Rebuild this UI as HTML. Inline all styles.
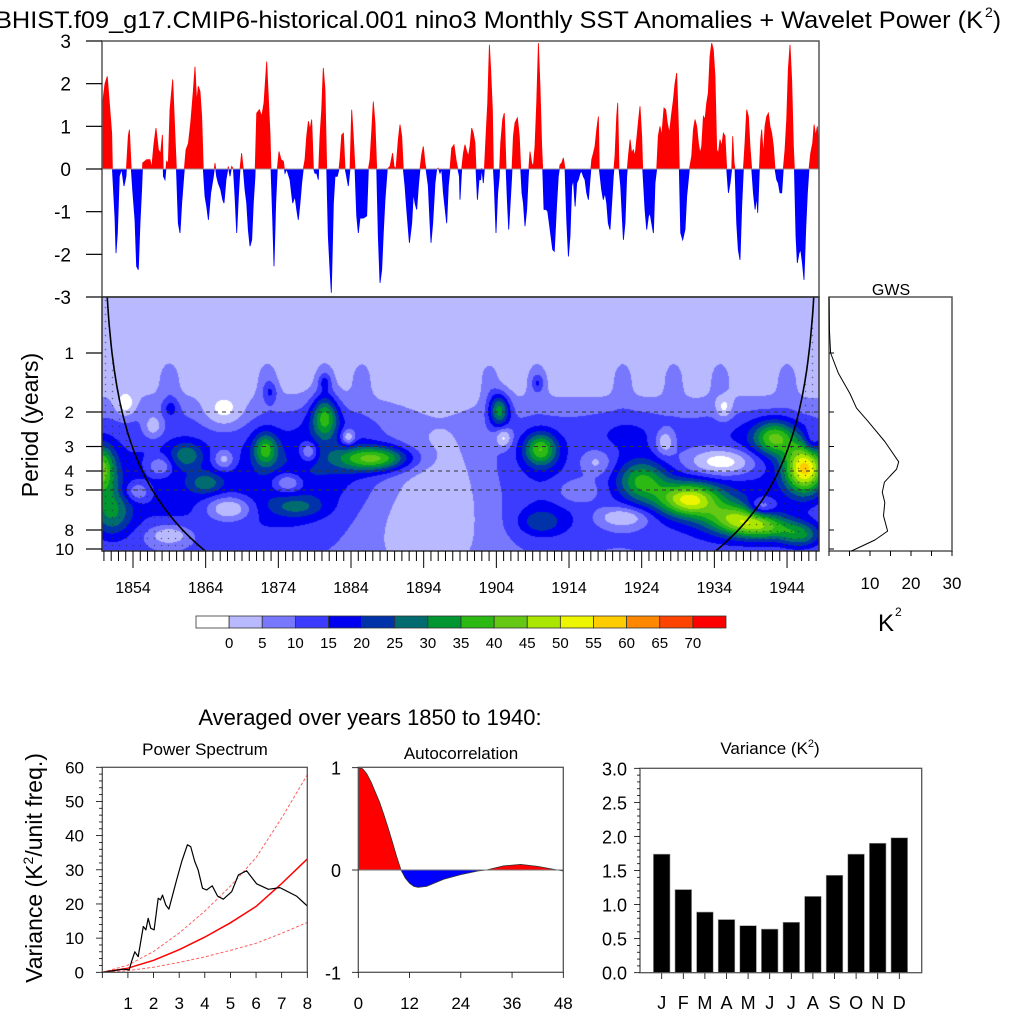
<!DOCTYPE html>
<html><head><meta charset="utf-8">
<style>
html,body{margin:0;padding:0;background:#fff;}
#wrap{position:relative;width:1024px;height:1024px;overflow:hidden;font-family:"Liberation Sans",sans-serif;}
#wavelet-canvas{position:absolute;left:102px;top:297px;}
svg{position:absolute;left:0;top:0;}
text{font-family:"Liberation Sans",sans-serif;fill:#000;}
</style></head>
<body>
<div id="wrap">
<canvas id="wavelet-canvas" width="717" height="254"></canvas>
<svg id="fig" width="1024" height="1024" viewBox="0 0 1024 1024">
<defs>
<clipPath id="clip-pos"><rect x="102" y="41" width="717" height="128"/></clipPath>
<clipPath id="clip-neg"><rect x="102" y="169" width="717" height="128"/></clipPath>
<clipPath id="clip-wav"><rect x="102" y="297" width="717" height="254"/></clipPath>
<clipPath id="clip-acpos"><rect x="358" y="767" width="206" height="103"/></clipPath>
<clipPath id="clip-acneg"><rect x="358" y="870" width="206" height="103"/></clipPath>
<clipPath id="clip-ps"><rect x="102" y="767" width="206" height="206"/></clipPath>
</defs>
<text x="-5" y="28" font-size="24" textLength="988" lengthAdjust="spacingAndGlyphs">BHIST.f09_g17.CMIP6-historical.001 nino3 Monthly SST Anomalies + Wavelet Power (K</text>
<text x="985" y="17" font-size="14">2</text>
<text x="993" y="28" font-size="24">)</text>

<g id="ts-layer"></g>
<g id="wav-layer"></g>
<text transform="translate(38,425) rotate(-90)" text-anchor="middle" font-size="23">Period (years)</text>

<g id="gws-layer"></g>
<text x="891" y="295" text-anchor="middle" font-size="16">GWS</text>
<text x="878" y="631" font-size="24">K</text>
<text x="895" y="616" font-size="12">2</text>

<g id="cb-layer"></g>

<text x="370" y="725" text-anchor="middle" font-size="22">Averaged over years 1850 to 1940:</text>
<text x="205" y="755" text-anchor="middle" font-size="17">Power Spectrum</text>
<text x="461" y="759" text-anchor="middle" font-size="17">Autocorrelation</text>
<text x="770" y="754" text-anchor="middle" font-size="17">Variance (K<tspan font-size="11" dy="-7">2</tspan><tspan dy="7">)</tspan></text>
<text transform="translate(42,868) rotate(-90)" text-anchor="middle" font-size="23">Variance (K<tspan font-size="14" dy="-9">2</tspan><tspan dy="9">/unit freq.)</tspan></text>
<g id="ps-layer"></g>
<g id="ac-layer"></g>
<g id="var-layer"></g>
</svg>
</div>
<script>
// ---------- DATA ----------
const tsYears = [1849.46,1850.15,1850.47,1850.84,1851.07,1851.16,1851.52,1851.66,1851.85,1852.12,1852.44,1852.76,1853.04,1853.36,1853.5,1853.73,1853.96,1854.28,1854.5,1854.73,1854.96,1855.19,1855.33,1855.88,1856.34,1856.57,1856.89,1857.17,1857.49,1857.81,1858.04,1858.18,1858.4,1858.63,1858.86,1859.09,1859.46,1859.78,1860.01,1860.24,1860.47,1860.7,1861.02,1861.29,1861.62,1861.94,1862.3,1862.53,1862.76,1862.99,1863.22,1863.45,1863.68,1863.91,1864.14,1864.37,1864.69,1865.06,1865.29,1865.51,1865.74,1866.07,1866.34,1866.52,1866.8,1867.12,1867.35,1867.58,1867.81,1868.04,1868.27,1868.5,1868.73,1868.95,1869.18,1869.41,1869.64,1869.87,1870.1,1870.33,1870.56,1870.79,1871.02,1871.39,1871.71,1872.03,1872.4,1872.62,1872.85,1872.99,1873.22,1873.4,1873.63,1873.86,1874.09,1874.37,1874.69,1874.92,1875.15,1875.61,1875.97,1876.29,1876.52,1876.75,1876.98,1877.21,1877.44,1877.67,1877.9,1878.13,1878.36,1878.59,1878.82,1879.05,1879.28,1879.5,1879.73,1879.96,1880.19,1880.42,1880.65,1880.88,1881.11,1881.29,1881.57,1881.8,1882.12,1882.35,1882.49,1882.72,1882.95,1883.17,1883.4,1883.63,1883.86,1884.09,1884.32,1884.55,1884.78,1885.01,1885.24,1885.7,1886.16,1886.39,1886.61,1886.84,1887.07,1887.3,1887.53,1887.76,1887.99,1888.22,1888.45,1888.68,1889.0,1889.37,1889.73,1889.92,1890.19,1890.51,1890.74,1890.97,1891.2,1891.43,1891.66,1892.03,1892.35,1892.58,1892.81,1893.04,1893.27,1893.5,1893.73,1893.95,1894.18,1894.32,1894.64,1894.87,1895.01,1895.24,1895.56,1895.79,1896.02,1896.25,1896.48,1896.71,1897.17,1897.39,1897.62,1897.85,1898.17,1898.45,1898.63,1898.91,
1899.0,1899.23,1899.46,1899.69,1899.92,1900.15,1900.38,1900.61,1900.83,1901.06,1901.2,1901.39,1901.61,1901.84,1901.98,1902.21,1902.35,1902.58,1902.81,1903.04,1903.22,1903.45,1903.59,1903.72,1903.95,1904.18,1904.41,1904.6,1904.87,1905.1,1905.33,1905.51,1905.7,1905.88,1906.11,1906.34,1906.57,1906.89,1907.16,1907.35,1907.53,1907.72,1907.94,1908.17,1908.4,1908.63,1908.86,1909.09,1909.32,1909.55,1909.78,1910.01,1910.24,1910.38,1910.56,1910.83,1911.06,1911.29,1911.52,1911.75,1911.98,1912.3,1912.53,1912.76,1912.99,1913.22,1913.45,1913.68,1913.91,1914.14,1914.37,1914.6,1914.83,1915.05,1915.28,1915.51,1915.74,1915.97,1916.2,1916.43,1916.66,1916.89,1917.12,1917.35,1917.58,1917.81,1918.04,1918.17,1918.49,1918.72,1918.95,1919.18,1919.41,1919.64,1919.87,1920.1,1920.33,1920.56,1920.7,1920.88,1921.11,1921.34,1921.48,1921.71,1921.94,1922.17,1922.4,1922.62,1922.85,1923.08,1923.31,1923.54,1923.77,1924.0,1924.14,1924.46,1924.69,1924.92,1925.15,1925.38,1925.61,1925.83,1926.06,1926.29,1926.52,1926.75,1927.07,1927.3,1927.53,1927.81,1928.13,1928.36,1928.59,1928.82,1929.05,1929.18,1929.37,1929.64,1929.96,1930.19,1930.56,1930.88,1931.11,1931.34,1931.57,1931.8,1932.03,1932.26,1932.49,1932.71,1932.94,1933.17,1933.4,1933.63,1933.86,1934.09,1934.32,1934.55,1934.78,1935.01,1935.24,1935.47,1935.7,1935.93,1936.16,1936.38,1936.52,1936.71,1936.84,1937.07,1937.3,1937.53,1937.76,1937.99,1938.22,1938.45,1938.68,1938.91,1939.14,1939.37,1939.6,1939.82,1939.96,1940.15,1940.37,1940.51,1940.74,1940.97,1941.2,1941.43,1941.66,1941.89,1942.12,1942.35,1942.58,1942.8,1943.03,1943.26,1943.49,1943.72,1943.95,1944.18,1944.41,1944.64,1944.87,1945.01,1945.24,1945.42,1945.65,1945.88,1946.11,1946.34,1946.57,1946.8,1947.03,1947.26,1947.53,1947.72,1947.94,1948.17,1948.4];
const tsValues = [1.08,2.0,2.17,1.35,0.84,0,-1.15,-1.97,-1.5,-0.17,0,-0.4,-0.17,0.77,0.92,0.1,-0.5,-1.2,-2.28,-2.36,-1.27,-0.5,0.14,0.22,0.22,0.02,0.6,0.96,0.45,0.37,0.8,-0.17,-0.25,0.18,0.14,1.39,2.1,0.77,-0.17,-1.27,-1.5,-0.8,-0.1,0.45,0.6,1.08,1.82,2.4,1.55,1.94,1.82,1.23,0,-0.64,-0.88,-1.19,-0.56,-0.17,0.14,-0.17,-0.33,-0.48,-0.72,-0.8,-0.25,0.06,-0.17,0.06,0,-0.64,-1.5,-0.64,0,0.37,0,-0.48,-0.8,-1.42,-1.81,-1.66,-0.8,-0.17,1.31,1.39,1.23,1.55,2.52,1.7,0.84,0,-1.19,-2.28,-0.8,0,0.41,0.22,0.18,-0.1,0,-0.25,-0.8,-0.64,-0.95,-1.19,-0.8,-0.33,0,0.22,0.77,1.12,0.92,1.16,0.02,-0.1,-0.1,-0.25,0.77,1.39,2.37,1.86,0,-1.58,-2.36,-2.9,-0.8,-0.17,-0.17,0,0.22,0.8,0.84,0.02,-0.17,-0.4,0,1.39,0.77,0,-1.1,-1.5,-1.15,-1.15,-1.1,0,0.22,0.84,1.58,1.08,0,-1.58,-2.67,-2.36,-1.5,-0.72,0,0.06,0.37,0.06,0,0.69,1.04,0.77,0,-0.4,-0.95,-1.73,-1.27,-0.56,-0.8,-0.95,-0.4,0,0.34,0.53,0.14,0,-0.4,-1.27,-1.73,-1.27,-0.33,0,0.02,-0.1,0,-0.56,-1.27,-0.4,0,0.49,0.57,0.22,0.06,-0.17,
-0.72,0,0.37,0.57,0.41,0.3,0.53,0.96,0.84,0.61,0,-0.72,-0.25,-0.25,0.02,-0.33,0,0.77,1.55,2.91,2.33,1.39,0,-0.4,-1.5,-0.56,-0.17,0.61,1.16,1.31,0.06,-0.72,-1.42,-0.88,-0.17,0.77,1.08,1.2,0.77,0,-0.56,-0.8,-1.34,-0.95,-0.17,0.41,0.14,0.06,0.53,1.55,2.95,1.94,0.53,0,-0.95,-0.95,-0.99,-1.27,-1.58,-1.89,-1.93,-0.8,-0.17,0.1,0.14,0.26,0,-1.19,-2.05,-1.58,-0.4,-0.25,-0.88,-0.33,-0.25,-0.1,-0.05,-0.17,-0.25,-0.56,-0.72,-0.25,0.22,0.37,0.53,0.92,1.23,0,-0.48,-0.72,-0.56,-0.8,-1.27,-1.42,-0.8,-0.17,0.3,1.23,1.55,0,-0.4,-1.19,-1.66,-1.27,-0.17,0.3,0.69,0.37,0.45,0.3,0.69,1.08,1.47,0.77,0,-0.95,-1.42,-1.11,-1.03,-1.27,-1.5,-0.33,0,0.77,1.0,0.77,1.43,1.39,1.08,0.84,1.31,1.62,2.0,2.25,1.0,0,-1.5,-1.66,-1.42,-0.64,0,0.3,0.92,1.16,1.0,0.61,0.37,0.53,1.23,1.16,1.55,1.78,2.64,2.95,2.8,2.17,0.45,0.37,0.69,0.53,0.84,0.77,0,-0.56,-0.33,0,0.77,0.14,0,-1.27,-1.89,-2.13,-0.88,0,0.61,1.39,1.23,0.53,0,-0.56,-0.95,-0.64,-1.03,-0.17,0.69,0.92,0.3,1.0,1.23,1.31,1.0,0.84,0.53,0,-0.25,-0.33,-0.56,-0.56,0,0.45,1.16,2.33,2.91,2.08,0.53,0,-1.58,-2.2,-1.97,-1.89,-2.2,-2.6,-1.42,-0.56,0,0.37,0.61,1.04,0.77,1.0,0.53];

const yearTicks = [1854,1864,1874,1884,1894,1904,1914,1924,1934,1944];
const periodTicks = [1,2,3,4,5,8,10];
const periodDashed = [2,3,4,5];

// wavelet power field: gaussian components (year, period, amplitude K^2, spread years, spread octaves)
const blobYear   = [1858,1875,1880,1910,1912,1922,1940,1935, 1880.4,1904.4,1872.2,1887.3,1910.1,1861.4,1864,1876.6,1924,1930.5,1937,1941,1946,1946.5,1942.3,1849.5,1851,1910, 1859,1872.5,1880.4,1885.5,1903,1909.6,1921.4,1928.4,1934.8,1944, 1872.9,1880.4,1909.7,1859.2, 1853,1856.8,1866.5,1866.5,1857.7,1854.6,1878.2,1883.6,1875.3,1867.2,1859,1905,1935.3,1927.2,1935.3,1940.4,1921.4,1915,1917.7,1947.4,1896,1893];
const blobPeriod = [4.5,5.5,3.2,3.5,7,2.6,3.0,6, 2.12,1.95,3.1,3.45,3.1,3.3,4.6,6.1,4.5,5.6,7,7.8,8.5,3.9,2.7,3.9,6.5,7.3, 1.4,1.4,1.4,1.4,1.4,1.4,1.4,1.4,1.4,1.4, 1.58,1.4,1.42,1.9, 1.84,2.38,2.0,3.5,3.8,5.1,3.2,2.7,4.6,6.2,8.5,2.7,1.9,2.85,3.6,6.1,6.9,5.1,3.6,2.85,4.5,8.5];
const blobAmp    = [9,8,8,6,6,7,8,9, 25,25,22,30,26,14,12,10,25,36,26,22,18,44,25,30,18,10, 5,5,5,5,5,5,5,5,5,5, 8,8,8,8, -10,-10,-10,-12,-12,-12,-14,-14,-14,-16,-12,-12,-10,-12,-20,-14,-12,-8,-8,-10,-5.5,-4];
const blobSy     = [8,7,6,5,5,4,6,8, 1.3,1.0,1.2,3.5,1.6,1.5,1.5,2.5,2.5,3,3,3,2,2,2,1.5,2,2, 1,1,1,1,1,1,1,1,1,1, 0.7,0.6,0.6,0.8, 1,1,2,1,1.2,1.3,0.9,0.7,1.5,2.2,2,0.8,0.8,0.9,3.5,1.3,2.5,2,1.5,0.8,5,6];
const blobSo     = [0.7,0.6,0.5,0.5,0.4,0.3,0.4,0.6, 0.25,0.2,0.2,0.15,0.2,0.15,0.12,0.12,0.25,0.2,0.18,0.15,0.15,0.3,0.2,0.3,0.3,0.15, 0.25,0.25,0.25,0.25,0.25,0.25,0.25,0.25,0.25,0.25, 0.12,0.1,0.1,0.12, 0.15,0.15,0.2,0.12,0.12,0.12,0.12,0.1,0.12,0.15,0.12,0.12,0.15,0.15,0.18,0.1,0.12,0.15,0.15,0.15,1.0,0.6];

const cbLevels = [0,5,10,15,20,25,30,35,40,45,50,55,60,65,70];
const cbColors = ["#ffffff","#b9b9ff","#7878ff","#3c3cff","#0000f0","#0033aa","#006c70","#009632","#2db914","#64c814","#aae600","#eef500","#ffcc00","#ff8800","#ff4400","#ff0000"];

const gwsPeriod = [0.52,0.76,1.0,1.27,1.61,1.91,2.23,2.83,3.59,3.91,4.56,5.14,5.79,6.77,8.1,9.0,10.24];
const gwsPower  = [0,0.1,0.4,2.3,5.1,6.7,9.5,13.6,17,16.5,13.5,13,13.6,13.3,14.3,11.2,5.5];
const gwsTicks = [10,20,30];

const psFreq  = [0,0.82,1.05,1.14,1.27,1.4,1.6,1.7,1.79,1.89,2.02,2.18,2.27,2.35,2.48,2.6,2.9,3.1,3.32,3.45,3.61,3.74,3.91,4.07,4.29,4.5,4.72,5.05,5.31,5.63,6.02,6.48,6.93,7.58,8];
const psPower = [0,0.9,0.7,3.1,6,4.6,13.4,12.4,15.8,12.9,12.4,21.7,21.2,22.6,19.7,18.5,27,32.4,37.3,36.8,32.4,30,24.6,24.1,25.3,22.3,21.4,23.6,28.5,29.7,25.9,24.3,24.8,22.3,19.4];
const redFreq = [0,1,2,3,4,5,6,7,8];
const redMean = [0,1.2,3.5,6.6,10.3,14.5,19.3,26,33.2];
const redUpper = [0,2.1,6.1,11.5,17.9,25.2,33.6,45.2,57.8];
const redLower = [0,0.5,1.5,2.9,4.5,6.4,8.5,11.4,14.6];
const psYTicks = [0,10,20,30,40,50,60];
const psXTicks = [1,2,3,4,5,6,7,8];

const acLag = [0,1,2,3,4,5,6,7,8,9,10,11,12,13,14,16,20,24,28,30,34,38,42,46,48];
const acVal = [1,0.99,0.94,0.86,0.76,0.66,0.54,0.41,0.27,0.13,0,-0.08,-0.13,-0.16,-0.17,-0.16,-0.09,-0.045,-0.01,0,0.04,0.055,0.035,0.005,-0.01];
const acXTicks = [0,12,24,36,48];
const acYTicks = [-1,0,1];

const months = ["J","F","M","A","M","J","J","A","S","O","N","D"];
const monthVar = [1.74,1.22,0.89,0.78,0.69,0.64,0.74,1.12,1.43,1.74,1.9,1.98];
const varTicks = [0,0.5,1.0,1.5,2.0,2.5,3.0];

// ---------- SCALES ----------
const xYear = y => 133 + (y - 1854) * 7.267;
const yTop = v => 169 - v * 42.667;
const yPer = p => 353 + 59 * Math.log2(p);
const xG = v => 829 + v * 4.1;
const xPS = f => 102.3 + f * 25.625;
const yPS = v => 972.3 - v * 3.417;
const xAC = l => 358.3 + l * 4.271;
const yAC = r => 870 - r * 102.3;
const xV = i => 661.7 + i * 21.6;
const yV = v => 972.7 - v * 68.13;

const NS = 'http://www.w3.org/2000/svg';
function mk(tag, attrs, parent) {
  const e = document.createElementNS(NS, tag);
  for (const k in attrs) e.setAttribute(k, attrs[k]);
  parent.appendChild(e);
  return e;
}
const fmt = n => n.toFixed(1);

// ---------- TOP: SST anomalies ----------
const ts = document.getElementById('ts-layer');
let pts = [[xYear(tsYears[0]), 169]];
for (let i = 0; i < tsYears.length; i++) pts.push([xYear(tsYears[i]), yTop(tsValues[i])]);
pts.push([xYear(tsYears[tsYears.length-1]), 169]);
const ptStr = pts.map(p => fmt(p[0]) + ',' + fmt(p[1])).join(' ');
let e;
e = mk('polygon', {points: ptStr, fill: '#ff0000', stroke: '#ff0000', 'stroke-width': 0.8, 'clip-path': 'url(#clip-pos)'}, ts);


e = mk('polygon', {points: ptStr, fill: '#0000ff', stroke: '#0000ff', 'stroke-width': 0.8, 'clip-path': 'url(#clip-neg)'}, ts);


e = mk('line', {x1: 102, x2: 819, y1: 169, y2: 169, stroke: '#999', 'stroke-width': 1}, ts);


e = mk('rect', {x: 102, y: 41, width: 717, height: 256, fill: 'none', stroke: '#555', 'stroke-width': 1.5}, ts);


for (let v = -3; v <= 3; v++) {
  e = mk('line', {x1: 86, x2: 102, y1: yTop(v), y2: yTop(v), stroke: '#000', 'stroke-width': 1.2}, ts);
  
  
  e = mk('text', {x: 71, y: yTop(v) + 7, 'text-anchor': 'end', 'font-size': 19}, ts);
  e.textContent = String(v);
  
  
}

// ---------- WAVELET ----------
(function () {
  const cv = document.getElementById('wavelet-canvas');
  const ctx = cv.getContext('2d');
  const W = 717, H = 254;
  const img = ctx.createImageData(W, H);
  const rgb = cbColors.map(c => [parseInt(c.substr(1,2),16), parseInt(c.substr(3,2),16), parseInt(c.substr(5,2),16)]);
  const bl = blobPeriod.map(p => Math.log2(p));
  const y1 = 1948.4;
  for (let j = 0; j < H; j++) {
    const l = (297 + j + 0.5 - 353) / 59;
    let t = (l - 0.45) / 0.8; t = Math.max(0, Math.min(1, t)); t = t * t * (3 - 2 * t);
    const base = 2.5 + 6 * t;
    for (let i = 0; i < W; i++) {
      const yr = 1854 + (102 + i + 0.5 - 133) / 7.267;
      let v = base;
      for (let k = 0; k < blobYear.length; k++) {
        const dy = (yr - blobYear[k]) / blobSy[k];
        const dl = (l - bl[k]) / blobSo[k];
        const q = dy * dy + dl * dl;
        if (q < 18) v += blobAmp[k] * Math.exp(-0.5 * q);
      }
      let idx = v < 0 ? 0 : Math.min(15, Math.floor(v / 5) + 1);
      let c = rgb[idx];
      const d = Math.min(yr - 1849.73, y1 - yr);
      const pc = 0.72 * d;
      if (Math.pow(2, l) > pc && i % 7 === 3 && j % 7 === 3) c = [40, 40, 40];
      const o = (j * W + i) * 4;
      img.data[o] = c[0]; img.data[o+1] = c[1]; img.data[o+2] = c[2]; img.data[o+3] = 255;
    }
  }
  ctx.putImageData(img, 0, 0);
})();

const wv = document.getElementById('wav-layer');
for (const p of periodDashed) {
  e = mk('line', {x1: 102, x2: 819, y1: yPer(p), y2: yPer(p), stroke: '#333', 'stroke-width': 1, 'stroke-dasharray': '4,4'}, wv);
  
  
}
let coiL = [], coiR = [];
for (let d = 0.7; d <= 15; d += 0.1) {
  const p = 0.72 * d;
  if (p < 0.5 || p > 10.4) continue;
  coiL.push(fmt(xYear(1849.73 + d)) + ',' + fmt(yPer(p)));
  coiR.push(fmt(xYear(1948.4 - d)) + ',' + fmt(yPer(p)));
}
e = mk('polyline', {points: coiL.join(' '), fill: 'none', stroke: '#000', 'stroke-width': 1.6, 'clip-path': 'url(#clip-wav)'}, wv);


e = mk('polyline', {points: coiR.join(' '), fill: 'none', stroke: '#000', 'stroke-width': 1.6, 'clip-path': 'url(#clip-wav)'}, wv);


e = mk('rect', {x: 102, y: 297, width: 717, height: 254, fill: 'none', stroke: '#333', 'stroke-width': 1.5}, wv);


for (const p of periodTicks) {
  e = mk('line', {x1: 86, x2: 102, y1: yPer(p), y2: yPer(p), stroke: '#000', 'stroke-width': 1.2}, wv);
  
  
  e = mk('text', {x: 74, y: yPer(p) + 6, 'text-anchor': 'end', 'font-size': 17}, wv);
  e.textContent = String(p);
  
  
}
for (let y = 1850; y <= 1948; y++) {
  const major = (y - 1854) % 10 === 0;
  e = mk('line', {x1: xYear(y), x2: xYear(y), y1: 551, y2: major ? 568 : 561, stroke: '#000', 'stroke-width': 1}, wv);
  
  
}
for (const y of yearTicks) {
  e = mk('text', {x: xYear(y), y: 593, 'text-anchor': 'middle', 'font-size': 16}, wv);
  e.textContent = String(y);
  
  
}

// ---------- GWS ----------
const gw = document.getElementById('gws-layer');
e = mk('rect', {x: 829, y: 297, width: 123, height: 254, fill: '#fff', stroke: '#555', 'stroke-width': 1.5}, gw);


e = mk('polyline', {points: gwsPeriod.map((p, i) => fmt(xG(gwsPower[i])) + ',' + fmt(yPer(p))).join(' '), fill: 'none', stroke: '#000', 'stroke-width': 1, 'stroke-linejoin': 'round'}, gw);


for (const p of periodTicks) {
  e = mk('line', {x1: 829, x2: 834, y1: yPer(p), y2: yPer(p), stroke: '#000', 'stroke-width': 1}, gw);
  
  
}
for (let v = 0; v <= 30; v += 5) {
  e = mk('line', {x1: xG(v), x2: xG(v), y1: 551, y2: 556, stroke: '#000', 'stroke-width': 1}, gw);
  
  
}
for (const v of gwsTicks) {
  e = mk('text', {x: xG(v), y: 589, 'text-anchor': 'middle', 'font-size': 17}, gw);
  e.textContent = String(v);
  
  
}

// ---------- COLORBAR ----------
const cb = document.getElementById('cb-layer');
const cbW = 530 / cbColors.length;
for (let i = 0; i < cbColors.length; i++) {
  e = mk('rect', {x: 196 + i * cbW, y: 616, width: cbW, height: 12, fill: cbColors[i], stroke: '#333', 'stroke-width': 0.8}, cb);
  
  
}
for (let i = 0; i < cbLevels.length; i++) {
  e = mk('text', {x: 196 + (i + 1) * cbW, y: 648, 'text-anchor': 'middle', 'font-size': 15}, cb);
  e.textContent = String(cbLevels[i]);
  
  
}

// ---------- POWER SPECTRUM ----------
const ps = document.getElementById('ps-layer');
function line(arrX, arrY, sx, sy, attrs, parent) {
  return mk('polyline', Object.assign({points: arrX.map((x, i) => fmt(sx(x)) + ',' + fmt(sy(arrY[i]))).join(' '), fill: 'none'}, attrs), parent);
}
e = line(redFreq, redUpper, xPS, yPS, {stroke: '#ff6060', 'stroke-width': 1, 'stroke-dasharray': '3,2', 'clip-path': 'url(#clip-ps)'}, ps);


e = line(redFreq, redLower, xPS, yPS, {stroke: '#ff6060', 'stroke-width': 1, 'stroke-dasharray': '3,2'}, ps);


e = line(redFreq, redMean, xPS, yPS, {stroke: '#ff0000', 'stroke-width': 1.5}, ps);


e = line(psFreq, psPower, xPS, yPS, {stroke: '#000', 'stroke-width': 1.2, 'stroke-linejoin': 'round'}, ps);


e = mk('rect', {x: 102.3, y: 767.3, width: 205, height: 205, fill: 'none', stroke: '#555', 'stroke-width': 1.3}, ps);


for (let v = 0; v <= 60; v += 2) {
  const major = v % 10 === 0;
  e = mk('line', {x1: major ? 96 : 99, x2: 102.3, y1: yPS(v), y2: yPS(v), stroke: '#000', 'stroke-width': 0.8}, ps);
  
  
}
for (const v of psYTicks) {
  e = mk('text', {x: 84, y: yPS(v) + 6, 'text-anchor': 'end', 'font-size': 17}, ps);
  e.textContent = String(v);
  
  
}
for (let f = 0; f <= 8; f++) {
  e = mk('line', {x1: xPS(f), x2: xPS(f), y1: 972.3, y2: 978, stroke: '#000', 'stroke-width': 0.8}, ps);
  
  
}
for (const f of psXTicks) {
  e = mk('text', {x: xPS(f), y: 1009, 'text-anchor': 'middle', 'font-size': 17}, ps);
  e.textContent = String(f);
  
  
}

// ---------- AUTOCORRELATION ----------
const ac = document.getElementById('ac-layer');
const acPts = [fmt(xAC(acLag[0])) + ',' + fmt(yAC(0))].concat(acLag.map((l, i) => fmt(xAC(l)) + ',' + fmt(yAC(acVal[i])))).concat([fmt(xAC(acLag[acLag.length-1])) + ',' + fmt(yAC(0))]).join(' ');
e = mk('polygon', {points: acPts, fill: '#ff0000', 'clip-path': 'url(#clip-acpos)'}, ac);


e = mk('polygon', {points: acPts, fill: '#0000ff', 'clip-path': 'url(#clip-acneg)'}, ac);


e = line(acLag, acVal, xAC, yAC, {stroke: '#333', 'stroke-width': 0.8}, ac);


e = mk('line', {x1: 358.3, x2: 563.3, y1: 870, y2: 870, stroke: '#777', 'stroke-width': 1}, ac);


e = mk('rect', {x: 358.3, y: 767.3, width: 205, height: 205, fill: 'none', stroke: '#555', 'stroke-width': 1.3}, ac);


for (const v of acYTicks) {
  e = mk('line', {x1: 352, x2: 358.3, y1: yAC(v), y2: yAC(v), stroke: '#000', 'stroke-width': 0.8}, ac);
  
  
  e = mk('text', {x: 341, y: yAC(v) + 7, 'text-anchor': 'end', 'font-size': 18}, ac);
  e.textContent = String(v);
  
  
}
for (const l of acXTicks) {
  e = mk('line', {x1: xAC(l), x2: xAC(l), y1: 972.3, y2: 978, stroke: '#000', 'stroke-width': 0.8}, ac);
  
  
  e = mk('text', {x: xAC(l), y: 1009, 'text-anchor': 'middle', 'font-size': 17}, ac);
  e.textContent = String(l);
  
  
}

// ---------- MONTHLY VARIANCE ----------
const vr = document.getElementById('var-layer');
for (let i = 0; i < monthVar.length; i++) {
  e = mk('rect', {x: xV(i) - 8.3, y: yV(monthVar[i]), width: 16.6, height: yV(0) - yV(monthVar[i]), fill: '#000', stroke: '#999', 'stroke-width': 0.6}, vr);
  
  
  e = mk('line', {x1: xV(i), x2: xV(i), y1: 972.7, y2: 979, stroke: '#000', 'stroke-width': 0.8}, vr);
  
  
  e = mk('text', {x: xV(i), y: 1009, 'text-anchor': 'middle', 'font-size': 18}, vr);
  e.textContent = months[i];
  
  
}
e = mk('rect', {x: 640, y: 768.3, width: 281.7, height: 204.4, fill: 'none', stroke: '#555', 'stroke-width': 1.3}, vr);


for (let v = 0; v <= 3.001; v += 0.1) {
  const major = Math.abs(v * 2 - Math.round(v * 2)) < 0.01;
  e = mk('line', {x1: major ? 634 : 637, x2: 640, y1: yV(v), y2: yV(v), stroke: '#000', 'stroke-width': 0.8}, vr);
  
  
}
for (const v of varTicks) {
  e = mk('text', {x: 627, y: yV(v) + 7, 'text-anchor': 'end', 'font-size': 18}, vr);
  e.textContent = v.toFixed(1);
  
  
}
</script>
</body></html>
